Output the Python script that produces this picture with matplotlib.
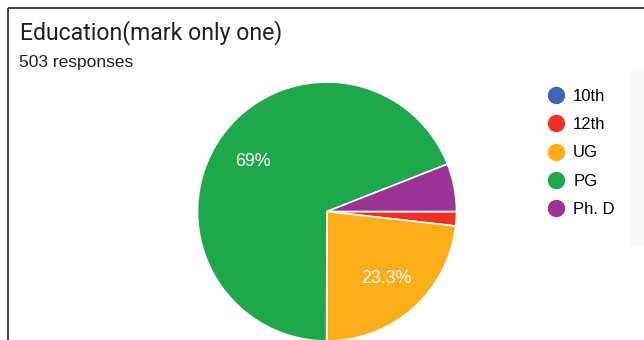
import matplotlib.pyplot as plt
from matplotlib.lines import Line2D
from matplotlib.patches import Rectangle

# Datos
categorias = ['10th', '12th', 'UG', 'PG', 'Ph. D']
respuestas = [0, 9, 117, 347, 30]
colores = ['#3F66B6', '#EE3124', '#FBAD1A', '#1EA84B', '#9A3393']
titulo = 'Education(mark only one)'
subtitulo = '503 responses'

plt.rcParams['font.family'] = ['Liberation Sans', 'DejaVu Sans']

fig = plt.figure(figsize=(6.44, 3.40), dpi=100)
ax = fig.add_axes([0, 0, 1, 1])
ax.set_xlim(0, 644)
ax.set_ylim(0, 340)
ax.set_aspect('equal')
ax.axis('off')

# marco de la tarjeta
ax.plot([8, 8], [0, 332], color='#333333', lw=1.3, solid_capstyle='butt')
ax.plot([8, 644], [332, 332], color='#333333', lw=1.3, solid_capstyle='butt')
ax.add_patch(Rectangle((631, 95), 13, 175, color='#F8F8F8', lw=0))


def etiqueta(pct):
    if pct < 10:
        return ''
    return '%g%%' % round(pct, 1)


# Grafico circular
wedges, textos, autotextos = ax.pie(
    respuestas, colors=colores, startangle=0, counterclock=False,
    center=(327, 128.5), radius=129.5, autopct=etiqueta, pctdistance=0.69,
    wedgeprops=dict(edgecolor='white', linewidth=1.2),
    textprops=dict(color='white', fontsize=12.8))
ax.set_xlim(0, 644)
ax.set_ylim(0, 340)

fig.text(20 / 644, 1 - 33 / 340, titulo, fontsize=16.6, color='#202124',
         va='center', ha='left', family=['Roboto', 'DejaVu Sans'])
fig.text(19 / 644, 1 - 63 / 340, subtitulo, fontsize=12.5, color='#202124',
         va='center', ha='left')

handles = [Line2D([], [], marker='o', linestyle='', markersize=11.5,
                  markerfacecolor=c, markeredgecolor=c) for c in colores]
ax.legend(handles, categorias, loc='upper left',
          bbox_to_anchor=(539.5 / 644, 1 - 82 / 340), frameon=False,
          fontsize=12, labelspacing=0.8, handletextpad=0.42,
          handlelength=1.2, borderaxespad=0)

plt.savefig('out.png', dpi=100)
